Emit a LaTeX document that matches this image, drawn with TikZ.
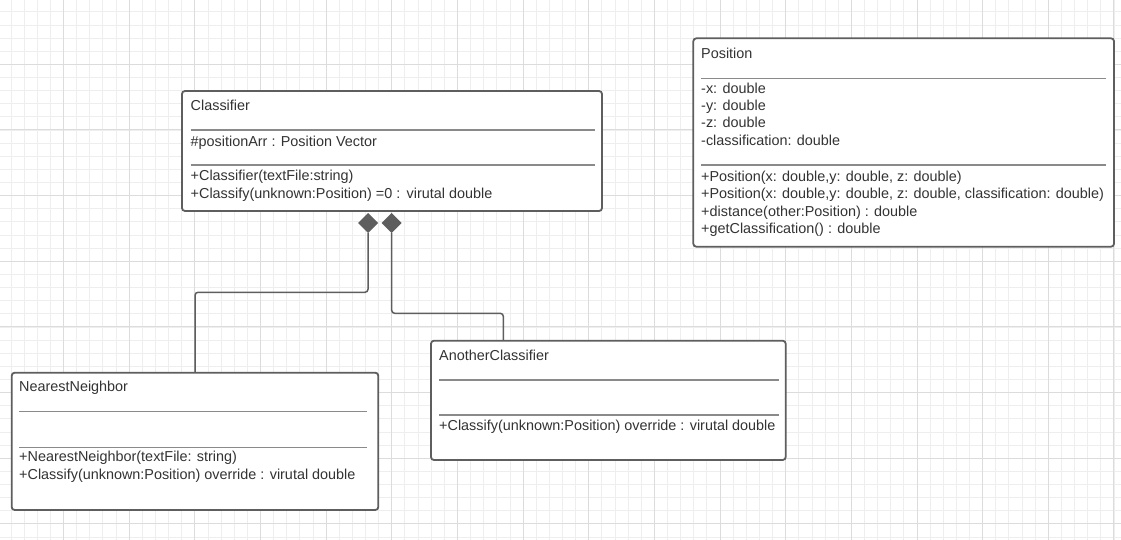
\documentclass[tikz,border=0pt]{standalone}
\usepackage{fontspec}
\setmainfont{Liberation Sans}
\usetikzlibrary{shapes.geometric}
\definecolor{gridminor}{HTML}{EEEEEE}
\definecolor{gridmajor}{HTML}{DCDCDC}
\definecolor{boxline}{HTML}{5E5E5E}
\definecolor{sepline}{HTML}{8A8A8A}
\definecolor{txt}{HTML}{333333}
\begin{document}
\begin{tikzpicture}[x=1pt,y=-1pt,
 umlbox/.style={draw=boxline, line width=1.8pt, rounded corners=3pt, fill=white, inner sep=0pt, outer sep=0pt, anchor=north west},
 sepline/.style={draw=sepline, line width=1.2pt},
 lbl/.style={anchor=base west, inner sep=0pt, text=txt, font=\fontsize{14.4}{17}\selectfont},
 conn/.style={draw=boxline, line width=1.5pt, rounded corners=3pt},
 agg/.style={diamond, fill=boxline, inner sep=0pt, outer sep=0pt, minimum width=20pt, minimum height=20pt}]
\useasboundingbox (0,0) rectangle (1121,540);
\fill[white] (0,0) rectangle (1121,540);
% grid
\foreach \i in {0,...,85} {\draw[gridminor, line width=0.8pt] ({10.98+13.13*\i},0) -- ({10.98+13.13*\i},540);}
\foreach \i in {0,...,40} {\draw[gridminor, line width=0.8pt] (0,{11.78+13.13*\i}) -- (1121,{11.78+13.13*\i});}
\foreach \i in {0,...,17} {\draw[gridmajor, line width=0.9pt] ({63.5+65.65*\i},0) -- ({63.5+65.65*\i},540);}
\foreach \i in {0,...,8} {\draw[gridmajor, line width=0.9pt] (0,{64.3+65.65*\i}) -- (1121,{64.3+65.65*\i});}

% Classifier
\node[umlbox, minimum width=420pt, minimum height=120pt] (cls) at (182,91) {};
\draw[sepline] (190.7,130) -- (595,130);
\draw[sepline] (190.7,165) -- (595,165);
\node[lbl] (clsT) at (190.5,111) {Classifier};
\node[lbl] (clsA) at (190.5,146.5) {\#positionArr : Position Vector};
\node[lbl] (clsM1) at (190.5,181) {+Classifier(textFile:string)};
\node[lbl] (clsM2) at (190.5,198) {+Classify(unknown:Position) =0 :\hspace{1pt} virutal double};

% Position
\node[umlbox, minimum width=420.7pt, minimum height=208.4pt] (pos) at (693.3,38.3) {};
\draw[sepline] (701,78.3) -- (1106,78.3);
\draw[sepline] (701,165) -- (1106,165);
\node[lbl] (posT) at (701,58.3) {Position};
\node[lbl] (posA1) at (701,93.3) {-x: double};
\node[lbl] (posA2) at (701,110.6) {-y: double};
\node[lbl] (posA3) at (701,127.8) {-z: double};
\node[lbl] (posA4) at (701,145.1) {-classification: double};
\node[lbl] (posM1) at (701,181.6) {+Position(x: double,y: double, z: double)};
\node[lbl] (posM2) at (701,198.8) {+Position(x: double,y: double, z: double, classification: double)};
\node[lbl] (posM3) at (701,216.1) {+distance(other:Position) : double};
\node[lbl] (posM4) at (701,233.3) {+getClassification() : double};

% NearestNeighbor
\node[umlbox, minimum width=366.6pt, minimum height=137.3pt] (nn) at (11.7,372.7) {};
\draw[sepline] (19,411.7) -- (367.3,411.7);
\draw[sepline] (19,447.3) -- (367.3,447.3);
\node[lbl] (nnT) at (19,391.7) {NearestNeighbor};
\node[lbl] (nnM1) at (19,461.7) {+NearestNeighbor(textFile: string)};
\node[lbl] (nnM2) at (19,479.2) {+Classify(unknown:Position) override : virutal double};

% AnotherClassifier
\node[umlbox, minimum width=354.7pt, minimum height=119.3pt] (ac) at (431,340.7) {};
\draw[sepline] (439,380) -- (779,380);
\draw[sepline] (439,415) -- (779,415);
\node[lbl] (acT) at (439,360) {AnotherClassifier};
\node[lbl] (acM1) at (439,430) {+Classify(unknown:Position) override : virutal double};

% aggregation diamonds
\node[agg] (d1) at (368,223) {};
\node[agg] (d2) at (391.7,223) {};
\coordinate (b1) at (195,292.3);
\coordinate (b2) at (503.3,313.3);
\draw[conn] (d1.south) |- (b1) -- (b1 |- nn.north);
\draw[conn] (d2.south) |- (b2) -- (b2 |- ac.north);
\end{tikzpicture}
\end{document}
